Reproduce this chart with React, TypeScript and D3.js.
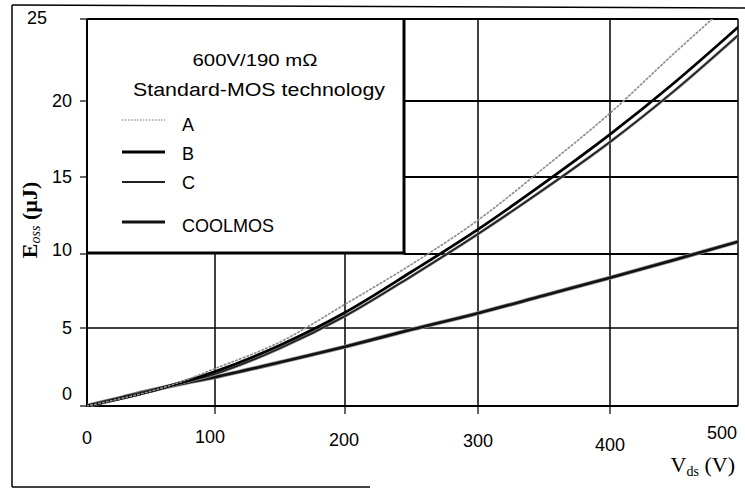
import React from "react";
import * as d3 from "d3";

const vds = [0, 25, 50, 75, 100, 150, 200, 250, 300, 350, 400, 450, 500];
const seriesA = [0, 0.45, 0.95, 1.6, 2.4, 4.1, 6.6, 9.3, 12.2, 15.6, 19.2, 22.9, 26.4];
const seriesB = [0, 0.45, 0.95, 1.55, 2.2, 3.9, 6.05, 8.8, 11.6, 14.6, 17.8, 21.1, 24.5];
const seriesC = [0, 0.45, 0.95, 1.5, 2.05, 3.7, 5.8, 8.5, 11.3, 14.2, 17.3, 20.6, 24.0];
const seriesCool = [0, 0.5, 1.0, 1.45, 1.85, 2.8, 3.8, 4.9, 6.0, 7.2, 8.4, 9.6, 10.8];

const xTicks = [0, 100, 200, 300, 400, 500];
const yTicks = [0, 5, 10, 15, 20, 25];
const legendTitle1 = "600V/190 mΩ";
const legendTitle2 = "Standard-MOS technology";
const legendLabels = ["A", "B", "C", "COOLMOS"];

export default function App() {
  const W = 745, H = 490;
  // scanned figure: slightly uneven grid spacing, reproduced with polylinear scales
  const x = d3.scaleLinear().domain(xTicks).range([87, 215, 345, 478, 610, 738]);
  const y = d3.scaleLinear().domain(yTicks).range([406, 328, 254, 177, 101, 19]);

  const legRight = 404;
  const legBottom = 253;

  const mk = (vals: number[]) =>
    d3
      .line<number>()
      .x((_, i) => x(vds[i]))
      .y((d) => y(d))
      .curve(d3.curveCatmullRom.alpha(0.5))(vals) as string;

  const sans = "'Liberation Sans', Arial, 'DejaVu Sans', sans-serif";
  const serif = "'Liberation Serif', 'Times New Roman', 'DejaVu Serif', serif";

  const xLabelDy: Record<number, number> = { 0: 444, 100: 443, 200: 446, 300: 447, 400: 451, 500: 439 };
  const xLabelX: Record<number, number> = { 0: 87, 100: 210, 200: 344, 300: 478, 400: 610, 500: 722 };

  const legendY = [120, 152, 182, 222];
  const legendTextY = [131, 160, 189, 232];

  return (
    <svg width={W} height={H} style={{ position: "absolute", left: 0, top: 0, background: "#fff" }}>
      <defs>
        <clipPath id="plotClip">
          <rect x={87} y={19} width={651} height={388} />
        </clipPath>
      </defs>
      {/* outer scan frame */}
      <line x1={12} y1={5} x2={745} y2={8} stroke="#000" strokeWidth={1.5} />
      <line x1={12} y1={5} x2={12} y2={487} stroke="#000" strokeWidth={1.5} />
      <line x1={12} y1={487} x2={370} y2={487} stroke="#000" strokeWidth={1.5} />

      {/* grid */}
      {[100, 200].map((v) => (
        <line key={"vg" + v} x1={x(v)} x2={x(v)} y1={y(0)} y2={legBottom} stroke="#000" strokeWidth={1.5} />
      ))}
      {[300, 400].map((v) => (
        <line key={"vg" + v} x1={x(v)} x2={x(v)} y1={y(0)} y2={y(25)} stroke="#000" strokeWidth={1.5} />
      ))}
      <line x1={x(0)} x2={x(500)} y1={y(5)} y2={y(5)} stroke="#000" strokeWidth={1.5} />
      {[10, 15, 20].map((v) => (
        <line key={"hg" + v} x1={legRight} x2={x(500)} y1={y(v)} y2={y(v)} stroke="#000" strokeWidth={2} />
      ))}

      {/* plot frame */}
      <line x1={x(0)} x2={x(0)} y1={y(0) + 1} y2={y(25)} stroke="#000" strokeWidth={2} />
      <line x1={x(0)} x2={x(500)} y1={y(0)} y2={y(0)} stroke="#000" strokeWidth={2} />
      <line x1={x(0)} x2={x(500)} y1={y(25)} y2={y(25)} stroke="#000" strokeWidth={2} />
      <line x1={x(500)} x2={x(500)} y1={y(0)} y2={y(25)} stroke="#000" strokeWidth={1.5} />

      {/* ticks */}
      {yTicks.map((v) => (
        <line key={"yt" + v} x1={x(0) - 7} x2={x(0)} y1={y(v)} y2={y(v)} stroke="#000" strokeWidth={1.2} />
      ))}
      {xTicks.slice(1, 5).map((v) => (
        <line key={"xt" + v} x1={x(v)} x2={x(v)} y1={y(0)} y2={y(0) + 8} stroke="#000" strokeWidth={1.2} />
      ))}

      {/* curves */}
      <g clipPath="url(#plotClip)" fill="none" strokeLinejoin="round" strokeLinecap="round">
        <path d={mk(seriesCool)} stroke="#8a8a8a" strokeWidth={4.2} />
        <path d={mk(seriesCool)} stroke="#111" strokeWidth={2.6} />
        <path d={mk(seriesC)} stroke="#999" strokeWidth={3} />
        <path d={mk(seriesC)} stroke="#222" strokeWidth={1.8} />
        <path d={mk(seriesB)} stroke="#000" strokeWidth={2.8} />
        <path d={mk(seriesA)} stroke="#8f8f8f" strokeWidth={1.7} strokeDasharray="1.5 2.5" />
      </g>

      {/* legend box */}
      <rect x={x(0) + 1} y={y(25) + 1} width={legRight - x(0) - 1} height={legBottom - y(25) - 1} fill="#fff" />
      <line x1={legRight} x2={legRight} y1={y(25)} y2={legBottom + 1.5} stroke="#000" strokeWidth={3} />
      <line x1={x(0)} x2={legRight + 1.5} y1={legBottom} y2={legBottom} stroke="#000" strokeWidth={3} />
      <text x={255} y={66} fontFamily={sans} fontSize={17} textAnchor="middle" textLength={125} lengthAdjust="spacingAndGlyphs">
        {legendTitle1}
      </text>
      <text x={259} y={96} fontFamily={sans} fontSize={18} textAnchor="middle" textLength={252} lengthAdjust="spacingAndGlyphs">
        {legendTitle2}
      </text>
      <line x1={122} x2={165} y1={legendY[0]} y2={legendY[0]} stroke="#9c9c9c" strokeWidth={1.6} strokeDasharray="1.5 1.5" />
      <line x1={122} x2={165} y1={legendY[1]} y2={legendY[1]} stroke="#000" strokeWidth={2.8} />
      <line x1={122} x2={165} y1={legendY[2]} y2={legendY[2]} stroke="#222" strokeWidth={2} />
      <line x1={122} x2={165} y1={legendY[3]} y2={legendY[3]} stroke="#111" strokeWidth={3} />
      {legendLabels.map((t, i) => (
        <text key={t} x={182} y={legendTextY[i]} fontFamily={sans} fontSize={18}>
          {t}
        </text>
      ))}

      {/* tick labels */}
      {yTicks.map((v) => (
        <text
          key={"yl" + v}
          x={v === 25 ? 47 : 72}
          y={v === 0 ? 400 : v === 25 ? 24 : y(v) + 6 - (v === 10 ? 4 : 0)}
          fontFamily={sans}
          fontSize={18}
          textAnchor="end"
        >
          {v}
        </text>
      ))}
      {xTicks.map((v) => (
        <text key={"xl" + v} x={xLabelX[v]} y={xLabelDy[v]} fontFamily={sans} fontSize={18} textAnchor="middle">
          {v}
        </text>
      ))}

      {/* axis titles */}
      <text transform="translate(37,220) rotate(-90)" fontFamily={serif} fontSize={22} fontWeight="bold" textAnchor="middle">
        E<tspan fontSize={14} fontStyle="italic" fontWeight="normal" dy={3}>oss</tspan>
        <tspan dy={-3}> (µJ)</tspan>
      </text>
      <text x={735} y={472} fontFamily={serif} fontSize={22} textAnchor="end">
        V<tspan fontSize={14} dy={4}>ds</tspan>
        <tspan dy={-4}> (V)</tspan>
      </text>
    </svg>
  );
}
